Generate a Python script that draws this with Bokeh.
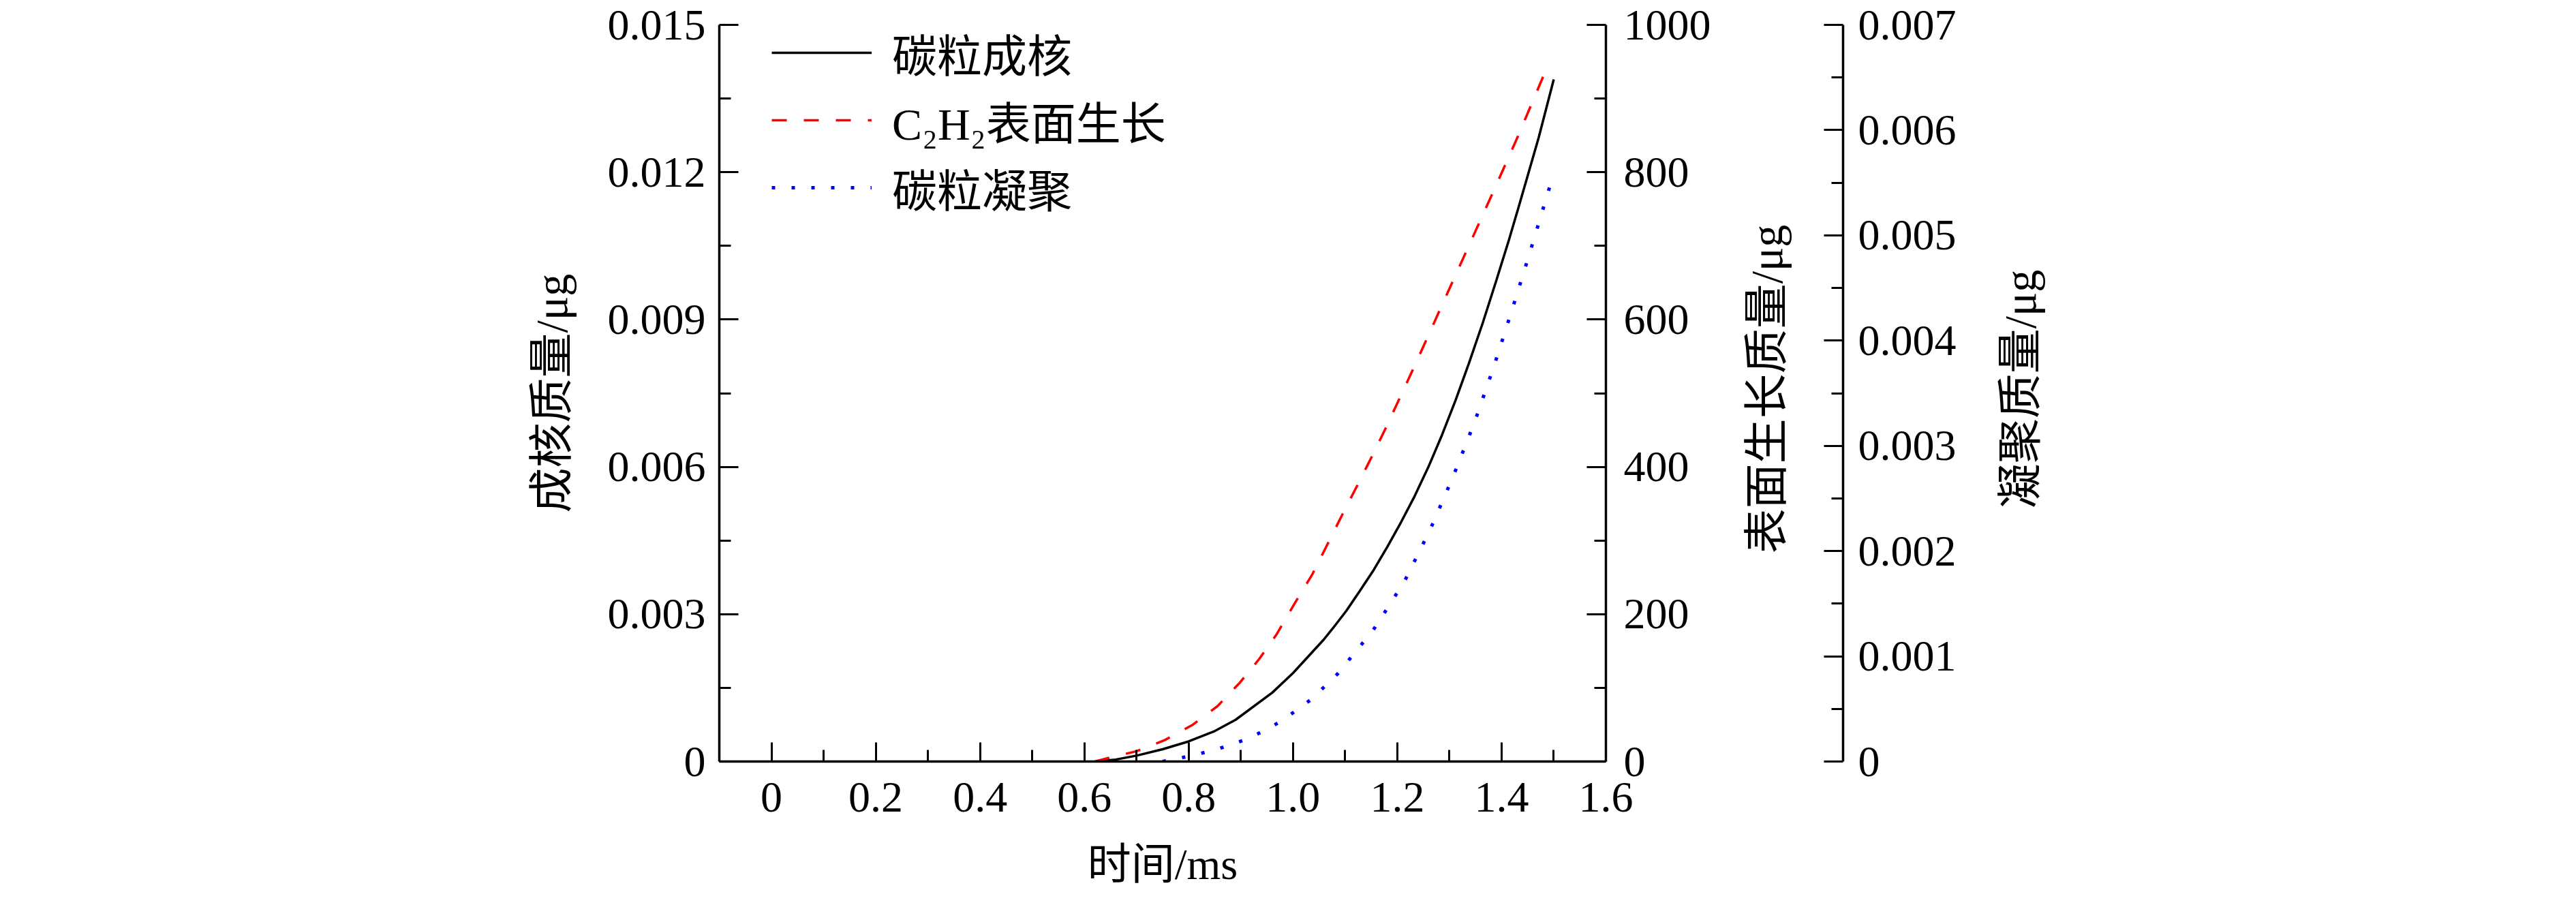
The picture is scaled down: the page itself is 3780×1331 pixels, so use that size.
import math
from bokeh.plotting import figure
from bokeh.models import Range1d, LinearAxis, FixedTicker, Legend, LegendItem, Label
from bokeh.layouts import row, column
from bokeh.embed import file_html
from bokeh.resources import INLINE

# ---- data ----
t_nuc = [0.62, 0.66, 0.70, 0.75, 0.80, 0.85, 0.89, 0.96, 1.00, 1.0588, 1.0762, 1.1024,
         1.1285, 1.1547, 1.1808, 1.207, 1.2331, 1.2593, 1.2854, 1.3115, 1.3377, 1.3638,
         1.390, 1.414, 1.434, 1.471, 1.50]
m_nuc = [0, 0.00004, 0.00012, 0.00025, 0.00041, 0.00062, 0.00085, 0.0014, 0.0018,
         0.00248, 0.00271, 0.00307, 0.00348, 0.0039, 0.00437, 0.00487, 0.0054, 0.00599,
         0.00664, 0.00735, 0.00812, 0.00893, 0.0098, 0.01062, 0.01134, 0.0127, 0.01389]

t_surf = [0.62, 0.645, 0.70, 0.754, 0.808, 0.855, 0.898, 0.935, 0.968, 1.001, 1.037,
          1.0654, 1.0937, 1.1242, 1.1547, 1.1808, 1.207, 1.2331, 1.2593, 1.2854, 1.3115,
          1.3377, 1.364, 1.407, 1.429, 1.49]
m_surf = [0, 4.6, 14, 29, 50, 75, 107, 139, 172, 212, 254, 294, 334, 376, 419, 457, 497,
          537, 578, 619, 660, 701, 742, 810, 845, 947]

t_coag = [0.75, 0.782, 0.851, 0.918, 0.978, 1.035, 1.085, 1.131, 1.1539, 1.175, 1.2135,
          1.2627, 1.3072, 1.3486, 1.3856, 1.4205, 1.4532, 1.497]
m_coag = [0, 0.00003, 0.00011, 0.000224, 0.000384, 0.00059, 0.00083, 0.00111, 0.00125,
          0.00141, 0.00171, 0.0022, 0.00271, 0.00323, 0.00376, 0.0043, 0.00482, 0.00554]

series_names = ["碳粒成核", "C₂H₂表面生长", "碳粒凝聚"]

x_ticks = [0, 0.2, 0.4, 0.6, 0.8, 1.0, 1.2, 1.4, 1.6]
x_tick_labels = ["0", "0.2", "0.4", "0.6", "0.8", "1.0", "1.2", "1.4", "1.6"]
nuc_ticks = [0, 0.003, 0.006, 0.009, 0.012, 0.015]
nuc_tick_labels = ["0", "0.003", "0.006", "0.009", "0.012", "0.015"]
surf_ticks = [0, 200, 400, 600, 800, 1000]
surf_tick_labels = ["0", "200", "400", "600", "800", "1000"]
coag_ticks = [0, 0.001, 0.002, 0.003, 0.004, 0.005, 0.006, 0.007]
coag_tick_labels = ["0", "0.001", "0.002", "0.003", "0.004", "0.005", "0.006", "0.007"]

x_title = "时间/ms"
nuc_title = "成核质量/μg"
surf_title = "表面生长质量/μg"
coag_title = "凝聚质量/μg"

# ---- styling / layout constants ----
SERIF = "'Liberation Serif', 'Noto Sans CJK SC'"
FS = "64px"      # tick labels
FS_T = "66px"    # titles and legend
FS_X = "64px"    # x title

TOP = 36
FRAME_H = 1081
BOTTOM = 103
H1 = TOP + FRAME_H + BOTTOM          # height of the upper row
H2 = 1315 - H1                       # strip holding the x title

LEFT_A = 1055
FRAME_W = 1301
W_A = 2530
W_B = 362
LEFT_B = 2
FRAME_B = 172
W_C = 3764 - W_A - W_B

# vertical centre of the side titles, as a fraction of the frame height from its bottom
TITLE_FRAC = (1125 - 578.5) / FRAME_H


def style_axis(ax, ticks, labels, standoff):
    minors = [(a + b) / 2 for a, b in zip(ticks[:-1], ticks[1:])]
    ax.ticker = FixedTicker(ticks=ticks, minor_ticks=minors)
    ax.major_label_overrides = dict(zip(ticks, labels))
    ax.axis_line_width = 3.5
    ax.axis_line_color = "black"
    ax.major_tick_in = 28
    ax.major_tick_out = 0
    ax.minor_tick_in = 17
    ax.minor_tick_out = 0
    ax.major_tick_line_width = 3
    ax.minor_tick_line_width = 3
    ax.major_tick_line_color = "black"
    ax.minor_tick_line_color = "black"
    ax.major_label_text_font = SERIF
    ax.major_label_text_font_size = FS
    ax.major_label_text_color = "black"
    ax.major_label_standoff = standoff
    ax.axis_label_text_font = SERIF
    ax.axis_label_text_font_size = FS_T
    ax.axis_label_text_font_style = "normal"
    ax.axis_label_text_color = "black"


def blank_fig(width, height, xr, yr, left, right, top, bottom):
    f = figure(width=width, height=height, x_range=xr, y_range=yr,
               output_backend="svg", toolbar_location=None,
               min_border_left=left, min_border_right=right,
               min_border_top=top, min_border_bottom=bottom,
               x_axis_type=None, y_axis_type=None)
    f.outline_line_color = None
    f.background_fill_color = "white"
    f.border_fill_color = "white"
    return f


# ---- main plot ----
p = blank_fig(W_A, H1, Range1d(-0.1, 1.6), Range1d(0, 0.015),
              LEFT_A, W_A - LEFT_A - FRAME_W, TOP, BOTTOM)
p.extra_y_ranges = {"surf": Range1d(0, 1000), "coag": Range1d(0, 0.007)}

xaxis = LinearAxis()
style_axis(xaxis, x_ticks, x_tick_labels, 31)
p.add_layout(xaxis, "below")

yaxis = LinearAxis(axis_label=nuc_title)
style_axis(yaxis, nuc_ticks, nuc_tick_labels, 20)
yaxis.axis_label_standoff = 43
p.add_layout(yaxis, "left")

raxis = LinearAxis(y_range_name="surf")
style_axis(raxis, surf_ticks, surf_tick_labels, 26)
p.add_layout(raxis, "right")

r1 = p.line(t_nuc, m_nuc, line_color="black", line_width=3.5)
r2 = p.line(t_surf, m_surf, y_range_name="surf", line_color="red", line_width=3.5,
            line_dash="22 25")
r3 = p.line(t_coag, m_coag, y_range_name="coag", line_color="blue", line_width=5,
            line_dash="5 24")

legend = Legend(items=[LegendItem(label=series_names[0], renderers=[r1]),
                       LegendItem(label=series_names[1], renderers=[r2]),
                       LegendItem(label=series_names[2], renderers=[r3])],
                location=(77, 794), glyph_width=147, glyph_height=74, label_height=74,
                label_standoff=30, spacing=3, padding=0, margin=0,
                border_line_color=None, background_fill_alpha=0,
                label_text_font=SERIF, label_text_font_size=FS_T, label_text_color="black")
p.add_layout(legend)

# ---- figure B: surface-growth title + third (coagulation) axis ----
pb = blank_fig(W_B, H1, Range1d(0, FRAME_B), Range1d(0, 0.007),
               LEFT_B, W_B - LEFT_B - FRAME_B, TOP, BOTTOM)
caxis = LinearAxis()
style_axis(caxis, coag_ticks, coag_tick_labels, 22)
pb.add_layout(caxis, "right")
pb.add_layout(Label(x=60, y=0.007 * TITLE_FRAC, text=surf_title, angle=math.pi / 2,
                    text_align="center", text_baseline="middle", text_font=SERIF,
                    text_font_size=FS_T, text_color="black"))

# ---- figure C: coagulation title ----
pc = blank_fig(W_C, H1, Range1d(0, W_C), Range1d(0, 1), 0, 0, TOP, BOTTOM)
pc.add_layout(Label(x=72, y=TITLE_FRAC, text=coag_title, angle=math.pi / 2,
                    text_align="center", text_baseline="middle", text_font=SERIF,
                    text_font_size=FS_T, text_color="black"))

# ---- figure D: x title strip ----
pd_ = blank_fig(3764, H2, Range1d(-0.1, 1.6), Range1d(0, H2),
                LEFT_A, 3764 - LEFT_A - FRAME_W, 0, 0)
pd_.add_layout(Label(x=0.75, y=H2 / 2, text=x_title, text_align="center",
                     text_baseline="middle", text_font=SERIF, text_font_size=FS_X,
                     text_color="black"))

layout = column(row(p, pb, pc, spacing=0), pd_, spacing=0)
open("out.html", "w").write(file_html(layout, INLINE))
